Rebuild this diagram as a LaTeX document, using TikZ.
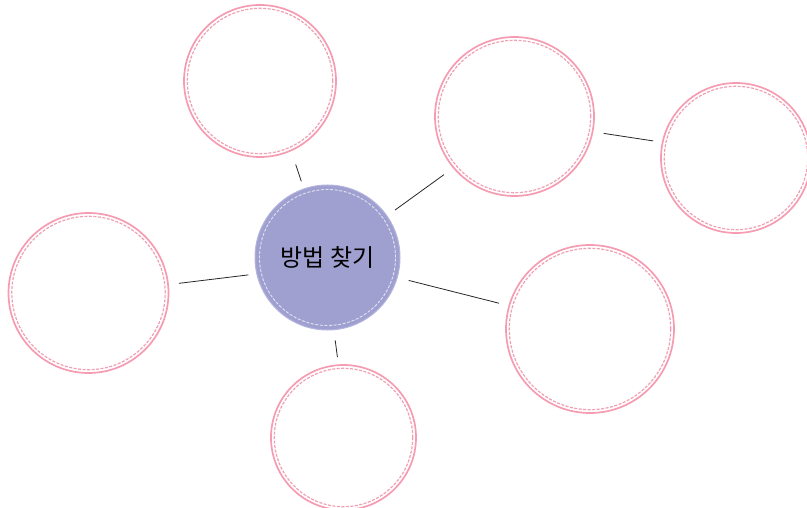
\documentclass[tikz,border=0pt]{standalone}
\usepackage{fontspec}
\newfontfamily\kofont{Noto Sans CJK KR}
\usepackage{xcolor}
\usetikzlibrary{arrows.meta,positioning,calc}
\definecolor{rosepink}{RGB}{246,156,178}
\definecolor{seampink}{RGB}{240,160,180}
\definecolor{lavender}{RGB}{160,160,208}
\definecolor{lavedge}{RGB}{180,180,222}
\definecolor{lavseam}{RGB}{226,226,246}

\begin{document}
\begin{tikzpicture}[x=1pt,y=-1pt,
    bubble/.style={circle,draw=rosepink,line width=1.7pt,fill=white,inner sep=0pt},
    seam/.style={draw=seampink,line width=1.2pt,dash pattern=on 3pt off 1.5pt},
    hub/.style={circle,draw=lavedge,line width=1pt,fill=lavender,inner sep=0pt,
      minimum size=145pt},
    hubseam/.style={draw=lavseam,line width=0.9pt,dash pattern=on 3pt off 1.6pt},
    link/.style={draw=black!85,line width=0.8pt}]
    \useasboundingbox (0,0) rectangle (807,508);
    \clip (0,0) rectangle (807,508);
    \node[hub] (cen) at (327.5,257.5) {};
    \draw[hubseam] (cen.center) circle (68pt);
    \node (label) at (cen.center) {\kofont\fontsize{24}{28}\selectfont 방법 찾기};
    \foreach \name/\x/\y/\r in {top/260/81/76,ur/514.5/116.5/79.5,fr/736/158/75,
                              lf/88.5/293/80,lr/590/329/84,bt/343.5/437.5/72.5} {
      \node[bubble,minimum size={2*\r*1pt}] (\name) at (\x,\y) {};
      \draw[seam] (\name.center) circle ({(\r-3.3)*1pt});
    }
    \foreach \a/\b/\s/\t in {cen.109/top.-66/7.5/14,cen.35/ur.220/9.5/11,
                             ur.-11/fr.168/10.5/8.7,cen.193/lf.6/8/10,
                             cen.-16/lr.164/11.4/9.7,cen.-85/bt.94/10.3/7.2} {
      \draw[link,shorten <=\s pt,shorten >=\t pt] (\a) -- (\b);
    }
  \end{tikzpicture}
\end{document}
